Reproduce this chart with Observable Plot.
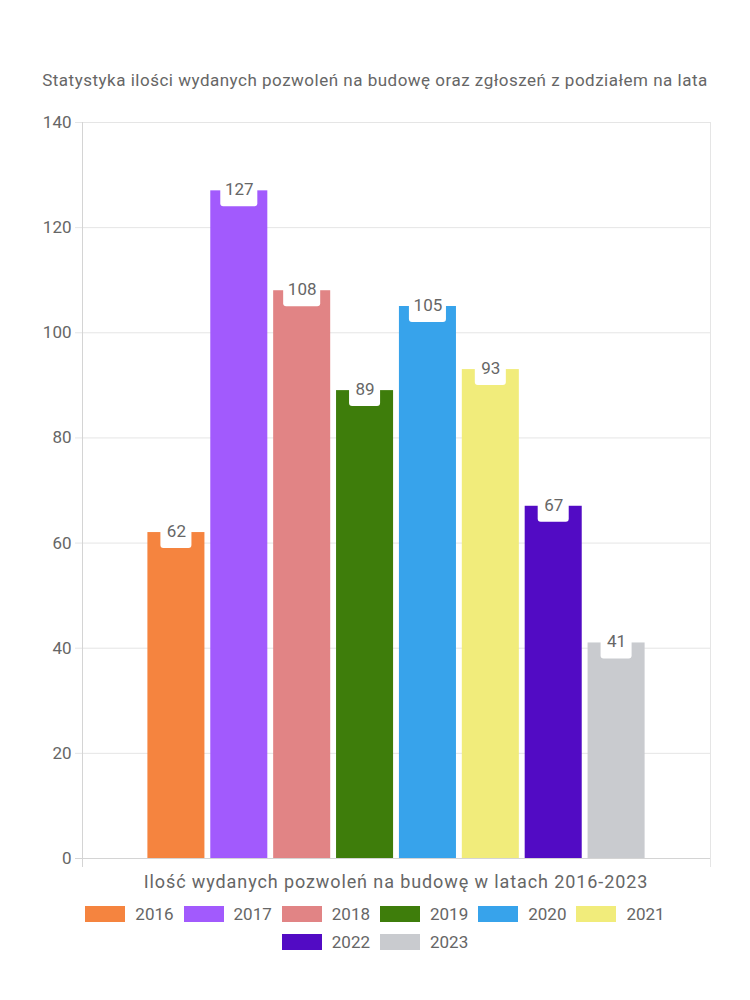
<!DOCTYPE html>
<html>
<head>
<meta charset="utf-8">
<script src="https://cdn.jsdelivr.net/npm/d3@7"></script>
<script src="https://cdn.jsdelivr.net/npm/@observablehq/plot@0.6"></script>
<style>
  html, body { margin: 0; padding: 0; background: #fff; }
  body { width: 750px; font-family: Roboto, "Noto Sans", sans-serif; color: #666; }
  #title { height: 100px; box-sizing: border-box; padding-top: 70px; line-height: 20px; font-size: 17px; letter-spacing: 0.5px; text-align: center; white-space: nowrap; }
  #chart svg { display: block; }
  #xlabel { text-align: center; font-size: 18px; letter-spacing: 0.9px; line-height: 24px; padding-left: 42px; box-sizing: border-box; width: 750px; white-space: nowrap; }
  #legend { width: 620px; margin: 6px auto 0 auto; display: flex; flex-wrap: wrap; justify-content: center; }
  .item { display: flex; align-items: center; height: 28px; margin: 0 5px; font-size: 17px; }
  .sw { width: 40px; height: 16px; margin-right: 10px; }
</style>
</head>
<body>
<div id="title"></div>
<div id="chart"></div>
<div id="xlabel"></div>
<div id="legend"></div>
<script>
const titleText = "Statystyka ilości wydanych pozwoleń na budowę oraz zgłoszeń z podziałem na lata";
const axisTitle = "Ilość wydanych pozwoleń na budowę w latach 2016-2023";
const years = ["2016", "2017", "2018", "2019", "2020", "2021", "2022", "2023"];
const values = [62, 127, 108, 89, 105, 93, 67, 41];
const colors = ["#f5843f", "#a25afd", "#e18485", "#3e7d0b", "#37a3eb", "#f1ec7b", "#520bc4", "#c9cbcf"];
const yTicks = [0, 20, 40, 60, 80, 100, 120, 140];

const data = years.map((y, i) => ({year: y, value: values[i], color: colors[i]}));
const threeDigit = data.filter(d => String(d.value).length >= 3);
const twoDigit = data.filter(d => String(d.value).length < 3);

document.getElementById("title").textContent = titleText;
document.getElementById("xlabel").textContent = axisTitle;

const chart = Plot.plot({
  width: 750,
  height: 770,
  marginLeft: 82,
  marginRight: 40,
  marginTop: 22,
  marginBottom: 12,
  style: {fontFamily: "Roboto, 'Noto Sans', sans-serif", color: "#666", fontSize: "17px", background: "#fff"},
  x: {domain: years, paddingInner: 0.093, paddingOuter: 1.04, round: false, axis: null},
  y: {domain: [0, 140], label: null},
  color: {domain: years, range: colors},
  marks: [
    Plot.ruleY(yTicks, {stroke: "#e5e5e5", insetLeft: -7}),
    Plot.frame({anchor: "left", stroke: "#d4d4d4", insetBottom: -8}),
    Plot.frame({anchor: "right", stroke: "#e5e5e5", insetBottom: -8}),
    Plot.ruleY([0], {stroke: "#d4d4d4", insetLeft: -7}),
    Plot.axisY({ticks: yTicks, tickSize: 0, tickPadding: 11, fontSize: 17, fill: "#666", label: null}),
    Plot.barY(data, {x: "year", y: "value", fill: "year"}),
    Plot.barY(threeDigit, {x: "year", y1: "value", y2: "value", fill: "white", insetLeft: 10, insetRight: 10, insetTop: -8, insetBottom: -16, rx: 3}),
    Plot.barY(twoDigit, {x: "year", y1: "value", y2: "value", fill: "white", insetLeft: 13, insetRight: 13, insetTop: -8, insetBottom: -16, rx: 3}),
    Plot.text(data, {x: "year", y: "value", text: d => String(d.value), fill: "#666", fontSize: 17, dy: -1})
  ]
});
document.getElementById("chart").appendChild(chart);

const legend = document.getElementById("legend");
years.forEach((y, i) => {
  const item = document.createElement("div");
  item.className = "item";
  const sw = document.createElement("div");
  sw.className = "sw";
  sw.style.background = colors[i];
  const lab = document.createElement("span");
  lab.textContent = y;
  item.appendChild(sw);
  item.appendChild(lab);
  legend.appendChild(item);
});
</script>
</body>
</html>
